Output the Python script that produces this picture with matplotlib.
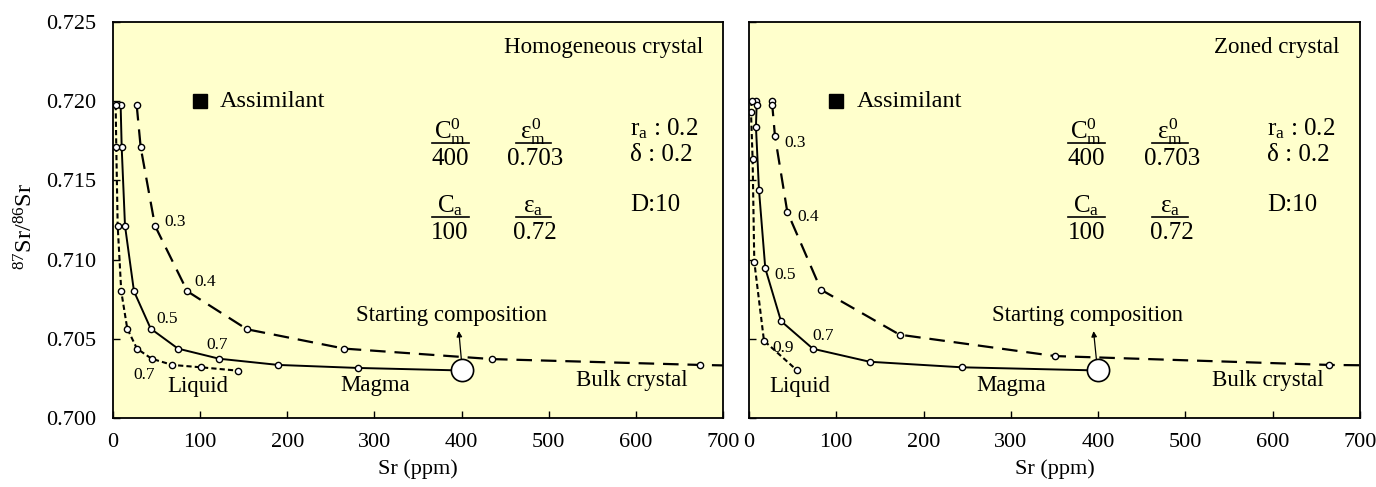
import matplotlib
matplotlib.use("Agg")
import matplotlib.pyplot as plt

plt.rcParams['font.family'] = ['Liberation Serif', 'DejaVu Serif']
plt.rcParams['mathtext.fontset'] = 'custom'
plt.rcParams['mathtext.rm'] = 'Liberation Serif'
plt.rcParams['mathtext.it'] = 'Liberation Serif'

# --- data (Sr ppm, 87Sr/86Sr) ---
# left panel: homogeneous crystal
hom_bulk_x = [27.2, 31.8, 48.2, 85.3, 153.8, 265.4, 434.6, 673.6, 700]
hom_bulk_y = [0.71976, 0.71709, 0.71214, 0.70800, 0.70560, 0.70438, 0.70372, 0.70335, 0.70332]
hom_magma_x = [8.8, 10.0, 13.8, 24.1, 43.3, 74.6, 122.0, 189.7, 280.8, 400]
hom_magma_y = [0.71976, 0.71709, 0.71214, 0.70800, 0.70564, 0.70438, 0.70374, 0.70335, 0.70316, 0.703]
hom_liq_x = [3.1, 3.8, 5.4, 9.5, 16.4, 27.5, 44.4, 68.1, 101.0, 143.1]
hom_liq_y = [0.71976, 0.71709, 0.71214, 0.70800, 0.70564, 0.70438, 0.70374, 0.70335, 0.70320, 0.70299]

# right panel: zoned crystal
zon_bulk_x = [26.0, 26.7, 29.8, 43.9, 82.5, 172.6, 350.6, 664.8, 700]
zon_bulk_y = [0.72003, 0.71976, 0.71780, 0.71302, 0.70810, 0.70526, 0.70391, 0.70335, 0.70333]
zon_magma_x = [8.4, 8.8, 8.0, 11.5, 18.7, 36.7, 73.3, 138.3, 244.0, 400]
zon_magma_y = [0.72003, 0.71976, 0.71839, 0.71439, 0.70945, 0.70612, 0.70437, 0.70355, 0.70320, 0.703]
zon_liq_x = [3.1, 2.3, 4.2, 6.1, 17.2, 54.6]
zon_liq_y = [0.72003, 0.71934, 0.71633, 0.70987, 0.70488, 0.70303]

assim = (100, 0.720)
start = (400, 0.703)

# curve labels (text, x, y)
hom_labels = [("0.3", 71.2, 0.71239), ("0.4", 105.6, 0.70860), ("0.5", 61.6, 0.70623),
              ("0.7", 119.0, 0.70461), ("0.7", 35.9, 0.70271)]
zon_labels = [("0.3", 52.7, 0.71734), ("0.4", 67.9, 0.71271), ("0.5", 41.2, 0.70903),
              ("0.7", 85.1, 0.70518), ("0.9", 39.3, 0.70440)]

fig = plt.figure(figsize=(13.76, 4.87), dpi=100)
ax1 = fig.add_axes([0.0821, 0.1417, 0.4433, 0.8131])
ax2 = fig.add_axes([0.5443, 0.1417, 0.4440, 0.8131])

mk = dict(marker='o', markersize=4.5, markerfacecolor='white', markeredgecolor='black',
          markeredgewidth=1.0, color='black')


def draw_panel(ax, bulk_x, bulk_y, mag_x, mag_y, liq_x, liq_y, labels, title, liq_lab_x, arrow_from, show_y):
    ax.set_facecolor('#FFFFCC')
    ax.plot(bulk_x, bulk_y, linestyle=(0, (7, 4)), lw=1.6, markevery=list(range(len(bulk_x) - 1)), **mk)
    ax.plot(mag_x, mag_y, linestyle='-', lw=1.4, markevery=list(range(len(mag_x) - 1)), **mk)
    ax.plot(liq_x, liq_y, linestyle=(0, (2.5, 1.5)), lw=1.5, **mk)
    ax.plot([start[0]], [start[1]], marker='o', markersize=16, markerfacecolor='white',
            markeredgecolor='black', markeredgewidth=1.2, zorder=5)
    ax.plot([assim[0]], [assim[1]], marker='s', markersize=10, color='black', zorder=5)
    ax.text(123, 0.720, "Assimilant", fontsize=17.5, va='center', ha='left')

    for t, x, y in labels:
        ax.text(x, y, t, fontsize=12.5, ha='center', va='center')

    ax.text(677, 0.72342, title, fontsize=16.5, ha='right', va='center')
    ax.text(liq_lab_x, 0.70198, "Liquid", fontsize=16.5, ha='center', va='center')
    ax.text(301, 0.70202, "Magma", fontsize=16.5, ha='center', va='center')
    ax.text(595, 0.70234, "Bulk crystal", fontsize=16.5, ha='center', va='center')
    ax.text(388, 0.70650, "Starting composition", fontsize=16.5, ha='center', va='center')
    ax.annotate("", xy=(arrow_from[2], 0.70566), xytext=(arrow_from[0], arrow_from[1]),
                arrowprops=dict(arrowstyle='-|>', color='black', lw=0.9, mutation_scale=8))

    # parameters
    fs = 18
    ax.text(386.7, 0.71761, r'$\mathrm{C}_{\mathrm{m}}^{0}$', fontsize=fs, ha='center', va='baseline')
    ax.text(386.7, 0.71633, "400", fontsize=fs, ha='center', va='center')
    ax.text(482.3, 0.71761, r'$\varepsilon_{\mathrm{m}}^{0}$', fontsize=fs, ha='center', va='baseline')
    ax.text(484.3, 0.71633, "0.703", fontsize=fs, ha='center', va='center')
    ax.text(386.7, 0.71299, r'$\mathrm{C}_{\mathrm{a}}$', fontsize=fs, ha='center', va='baseline')
    ax.text(386.7, 0.71166, "100", fontsize=fs, ha='center', va='center')
    ax.text(482.3, 0.71299, r'$\varepsilon_{\mathrm{a}}$', fontsize=fs, ha='center', va='baseline')
    ax.text(484.3, 0.71166, "0.72", fontsize=fs, ha='center', va='center')
    ax.text(593.3, 0.71829, r'$\mathrm{r}_{\mathrm{a}}$ : 0.2', fontsize=fs, ha='left', va='center')
    ax.text(593.3, 0.71660, "δ : 0.2", fontsize=fs, ha='left', va='center')
    ax.text(593.3, 0.71345, "D:10", fontsize=fs, ha='left', va='center')
    for x0, x1, y in [(366, 408, 0.71733), (462, 503, 0.71733), (366, 408, 0.71270), (462, 503, 0.71270)]:
        ax.plot([x0, x1], [y, y], color='black', lw=1.2)

    ax.set_xlim(0, 700)
    ax.set_ylim(0.700, 0.725)
    ax.set_xticks(range(0, 701, 100))
    ax.set_yticks([0.700, 0.705, 0.710, 0.715, 0.720, 0.725])
    ax.tick_params(direction='in', labelsize=16, length=5, width=1)
    ax.tick_params(axis='x', pad=11)
    ax.tick_params(axis='y', pad=12)
    if show_y:
        ax.set_yticklabels(["0.700", "0.705", "0.710", "0.715", "0.720", "0.725"])
    else:
        ax.set_yticklabels([])
    ax.set_xlabel("Sr (ppm)", fontsize=16, labelpad=5)
    for s in ax.spines.values():
        s.set_linewidth(1.3)


draw_panel(ax1, hom_bulk_x, hom_bulk_y, hom_magma_x, hom_magma_y, hom_liq_x, hom_liq_y,
           hom_labels, "Homogeneous crystal", 97.5, (400.2, 0.70345, 396.6), True)
draw_panel(ax2, zon_bulk_x, zon_bulk_y, zon_magma_x, zon_magma_y, zon_liq_x, zon_liq_y,
           zon_labels, "Zoned crystal", 58.4, (399.0, 0.70320, 394.5), False)

fig.text(26 / 1376, 1 - 227 / 487, r'$^{87}$Sr/$^{86}$Sr', rotation=90, fontsize=17.5,
         ha='center', va='center')

fig.savefig("out.png", dpi=100)
